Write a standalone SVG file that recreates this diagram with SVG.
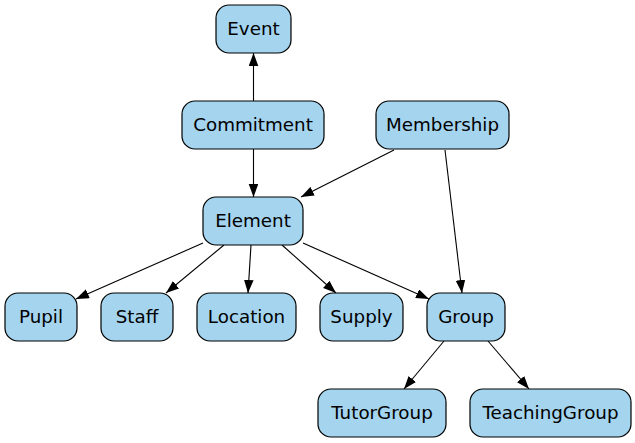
<svg xmlns="http://www.w3.org/2000/svg" width="635" height="443" viewBox="0 0 635 443">
<style>
.n rect{fill:#a4d4ee;stroke:#000;stroke-width:1.2}
.n text{font-family:"DejaVu Sans",sans-serif;font-size:18.3px;text-anchor:middle;fill:#000}
.e line{stroke:#000;stroke-width:1.1;marker-end:url(#ah)}
</style>
<defs>
<marker id="ah" markerUnits="userSpaceOnUse" markerWidth="14" markerHeight="10" refX="13" refY="4.8" orient="auto">
<path d="M0,0 L13,4.8 L0,9.6 z" fill="#000"/>
</marker>
</defs>
<rect width="635" height="443" fill="#fff"/>
<g class="e" id="edges">
<line x1="253.5" y1="101" x2="253.5" y2="53"/>
<line x1="253.5" y1="149" x2="253.5" y2="197"/>
<line x1="394" y1="150" x2="301" y2="197"/>
<line x1="445" y1="150" x2="462" y2="293"/>
<line x1="203" y1="243" x2="76" y2="299"/>
<line x1="224" y1="245" x2="166" y2="293"/>
<line x1="251" y1="245" x2="248" y2="293"/>
<line x1="282" y1="245" x2="336" y2="293"/>
<line x1="303" y1="243" x2="429" y2="299"/>
<line x1="444" y1="341" x2="404" y2="389"/>
<line x1="488" y1="341" x2="529" y2="389"/>
</g>
<g class="n" id="Event"><rect x="216" y="5" width="75" height="48" rx="13"/><text x="253.5" y="34.8">Event</text></g>
<g class="n" id="Commitment"><rect x="182" y="101" width="142" height="48" rx="13"/><text x="253" y="130.8">Commitment</text></g>
<g class="n" id="Membership"><rect x="376" y="101" width="133" height="48" rx="13"/><text x="442.5" y="130.8">Membership</text></g>
<g class="n" id="Element"><rect x="203" y="197" width="100" height="48" rx="13"/><text x="253" y="226.8">Element</text></g>
<g class="n" id="Pupil"><rect x="5" y="293" width="72" height="48" rx="13"/><text x="41" y="322.8">Pupil</text></g>
<g class="n" id="Staff"><rect x="101" y="293" width="72" height="48" rx="13"/><text x="137" y="322.8">Staff</text></g>
<g class="n" id="Location"><rect x="197" y="293" width="99" height="48" rx="13"/><text x="246.5" y="322.8">Location</text></g>
<g class="n" id="Supply"><rect x="320" y="293" width="83" height="48" rx="13"/><text x="361.5" y="322.8">Supply</text></g>
<g class="n" id="Group"><rect x="427" y="293" width="78" height="48" rx="13"/><text x="466" y="322.8">Group</text></g>
<g class="n" id="TutorGroup"><rect x="318" y="389" width="128" height="48" rx="13"/><text x="382" y="418.8">TutorGroup</text></g>
<g class="n" id="TeachingGroup"><rect x="470" y="389" width="161" height="48" rx="13"/><text x="550.5" y="418.8">TeachingGroup</text></g>
</svg>
